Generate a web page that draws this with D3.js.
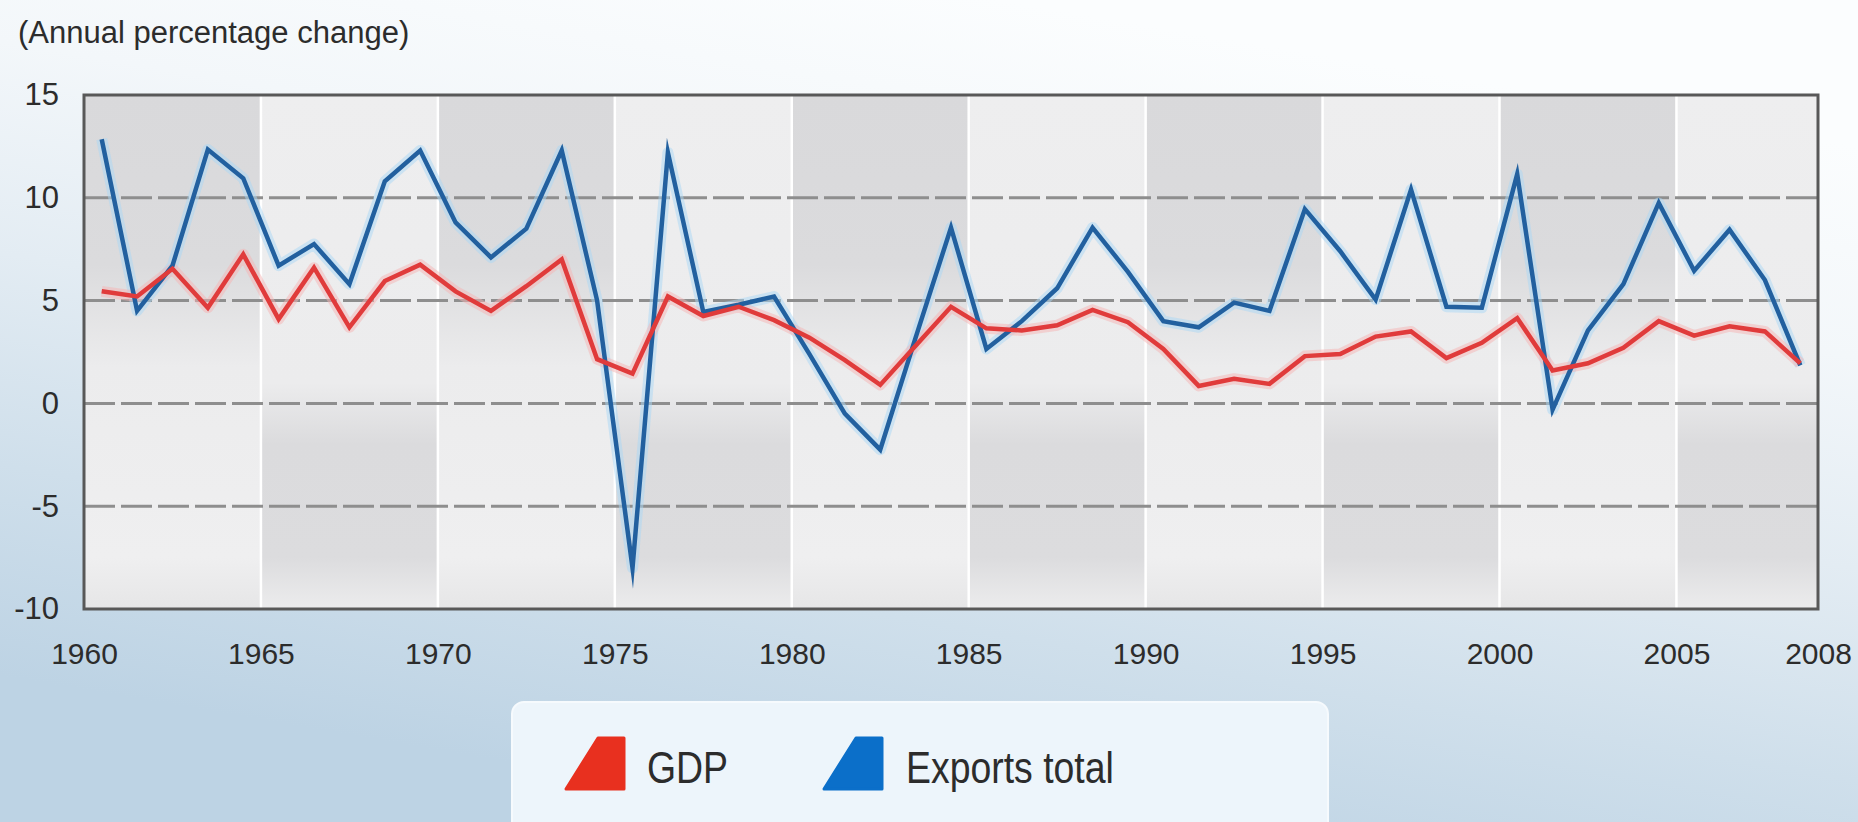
<!DOCTYPE html>
<html>
<head>
<meta charset="utf-8">
<script src="https://cdn.jsdelivr.net/npm/d3@7"></script>
<style>
  html, body { margin: 0; padding: 0; overflow: hidden; background: #eef4f9; }
  svg { display: block; }
  text { font-family: "Liberation Sans", Arial, Helvetica, sans-serif; fill: #2c2c2c; }
</style>
</head>
<body>
<svg id="chart" width="1858" height="822"></svg>
<script>
// ---------------- data ----------------
const years = [1960,1961,1962,1963,1964,1965,1966,1967,1968,1969,
               1970,1971,1972,1973,1974,1975,1976,1977,1978,1979,
               1980,1981,1982,1983,1984,1985,1986,1987,1988,1989,
               1990,1991,1992,1993,1994,1995,1996,1997,1998,1999,
               2000,2001,2002,2003,2004,2005,2006,2007,2008];

const gdp = [5.45,5.2,6.55,4.65,7.25,4.1,6.6,3.7,5.95,6.75,
             5.45,4.5,5.7,7.0,2.15,1.45,5.2,4.25,4.7,4.05,
             3.2,2.1,0.9,2.8,4.7,3.65,3.55,3.8,4.55,3.95,
             2.65,0.85,1.2,0.95,2.3,2.4,3.25,3.5,2.2,2.95,
             4.15,1.6,1.95,2.7,4.0,3.3,3.75,3.5,1.95];

const exportsTotal = [12.85,4.5,6.7,12.35,10.95,6.7,7.75,5.8,10.8,12.3,
                      8.8,7.1,8.5,12.3,5.0,-8.0,12.2,4.45,4.8,5.2,
                      2.4,-0.5,-2.25,3.2,8.55,2.65,4.0,5.6,8.55,6.4,
                      4.0,3.7,4.9,4.5,9.45,7.4,5.05,10.4,4.7,4.65,
                      11.15,-0.3,3.55,5.8,9.75,6.45,8.45,6.0,1.85];

const yTicks = [15, 10, 5, 0, -5, -10];
const gridValues = [10, 5, 0, -5];
const xTickValues = [1960,1965,1970,1975,1980,1985,1990,1995,2000,2005,2009];
const xTickLabels = ["1960","1965","1970","1975","1980","1985","1990","1995","2000","2005","2008"];

const title = "(Annual percentage change)";
const seriesNames = ["GDP", "Exports total"];
const seriesColors = ["#e03b3b", "#22609f"];
const legendColors = ["#e8301f", "#0b6fc9"];

// ---------------- layout ----------------
const W = 1858, H = 822;
const L = 84, R = 1818, T = 95, B = 609;

const svg = d3.select("#chart");
const defs = svg.append("defs");

// page background gradient
const bg = defs.append("linearGradient").attr("id", "pageBg")
  .attr("gradientUnits", "userSpaceOnUse")
  .attr("x1", 1000).attr("y1", 0).attr("x2", 860).attr("y2", 822);
[[0, "#fbfdfe"], [0.25, "#f3f7fa"], [0.5, "#e3ecf3"], [0.75, "#cfdfeb"], [1, "#bdd3e4"]]
  .forEach(([o, c]) => bg.append("stop").attr("offset", o).attr("stop-color", c));

// band gradients
const darkG = defs.append("linearGradient").attr("id", "bandDark")
  .attr("x1", 0).attr("y1", 0).attr("x2", 0).attr("y2", 1);
[[0, "#d9d9db"], [0.33, "#dbdbdd"], [0.53, "#ececed"], [0.9, "#efeff0"], [1, "#e6e6e7"]]
  .forEach(([o, c]) => darkG.append("stop").attr("offset", o).attr("stop-color", c));
const lightG = defs.append("linearGradient").attr("id", "bandLight")
  .attr("x1", 0).attr("y1", 0).attr("x2", 0).attr("y2", 1);
[[0, "#eeeeef"], [0.56, "#ececed"], [0.68, "#dbdbdd"], [0.9, "#dcdcde"], [1, "#ececed"]]
  .forEach(([o, c]) => lightG.append("stop").attr("offset", o).attr("stop-color", c));

svg.append("rect").attr("width", W).attr("height", H).attr("fill", "url(#pageBg)");

// ---------------- scales ----------------
const x = d3.scaleLinear().domain([1960, 2009]).range([L, R]);
const y = d3.scaleLinear().domain([-10, 15]).range([B, T]);

// ---------------- title ----------------
svg.append("text").attr("x", 18).attr("y", 43)
  .style("font-size", "31px").text(title);

// ---------------- bands ----------------
const bands = d3.pairs(xTickValues);
svg.append("g").selectAll("rect").data(bands).join("rect")
  .attr("x", d => x(d[0])).attr("y", y(15))
  .attr("width", d => x(d[1]) - x(d[0])).attr("height", y(-10) - y(15))
  .attr("fill", (d, i) => i % 2 === 0 ? "url(#bandDark)" : "url(#bandLight)");

// white separators
svg.append("g").selectAll("line").data(xTickValues.slice(1, -1)).join("line")
  .attr("x1", d => x(d)).attr("x2", d => x(d))
  .attr("y1", y(15)).attr("y2", y(-10))
  .attr("stroke", "#ffffff").attr("stroke-width", 2.5);

// dashed gridlines
svg.append("g").selectAll("line").data(gridValues).join("line")
  .attr("x1", L).attr("x2", R)
  .attr("y1", d => y(d)).attr("y2", d => y(d))
  .attr("stroke", "#8e8e8e").attr("stroke-width", 3)
  .attr("stroke-dasharray", "31,6");

// ---------------- lines ----------------
const line = d3.line().x((d, i) => x(years[i] + 0.5)).y(d => y(d));
const series = [exportsTotal, gdp];
const sColors = [seriesColors[1], seriesColors[0]];
const haloColors = ["#a9d8f6", "#f6b3b3"];
series.forEach((s, k) => {
  svg.append("path").datum(s).attr("d", line)
    .attr("fill", "none").attr("stroke", haloColors[k]).attr("stroke-width", 11)
    .attr("stroke-opacity", 0.5).attr("stroke-linejoin", "round");
});
series.forEach((s, k) => {
  svg.append("path").datum(s).attr("d", line)
    .attr("fill", "none").attr("stroke", sColors[k]).attr("stroke-width", 4.5)
    .attr("stroke-linejoin", "miter").attr("stroke-miterlimit", 12);
});

// plot border
svg.append("rect").attr("x", L).attr("y", T).attr("width", R - L).attr("height", B - T)
  .attr("fill", "none").attr("stroke", "#585858").attr("stroke-width", 3);

// ---------------- axes ----------------
const yAxis = svg.append("g").attr("transform", `translate(${L},0)`)
  .call(d3.axisLeft(y).tickValues(yTicks).tickFormat(d => String(d)).tickSize(0).tickPadding(25));
yAxis.select(".domain").remove();
yAxis.selectAll("text").style("font-size", "31px").attr("fill", "#2c2c2c");

const xAxis = svg.append("g").attr("transform", `translate(0,${B})`)
  .call(d3.axisBottom(x).tickValues(xTickValues)
    .tickFormat((d, i) => xTickLabels[i]).tickSize(0).tickPadding(34));
xAxis.select(".domain").remove();
xAxis.selectAll("text").style("font-size", "30px").attr("fill", "#2c2c2c");
d3.selectAll("g").attr("font-family", null);

// ---------------- legend ----------------
const lg = svg.append("g");
lg.append("rect").attr("x", 512).attr("y", 702).attr("width", 816).attr("height", 140)
  .attr("rx", 12).attr("fill", "#edf5fb").attr("stroke", "#f6fafd").attr("stroke-width", 2);

const legendItems = [
  { name: seriesNames[0], color: legendColors[0], mx: 565, tx: 647 },
  { name: seriesNames[1], color: legendColors[1], mx: 823, tx: 906 }
];
legendItems.forEach(it => {
  const p = d3.path();
  p.moveTo(it.mx + 33, 738);
  p.lineTo(it.mx + 59, 738);
  p.lineTo(it.mx + 59, 789);
  p.lineTo(it.mx + 1, 789);
  p.closePath();
  lg.append("path").attr("d", p.toString())
    .attr("fill", it.color).attr("stroke", it.color)
    .attr("stroke-width", 3).attr("stroke-linejoin", "round");
  lg.append("text").attr("transform", `translate(${it.tx},783) scale(0.85,1)`)
    .style("font-size", "44px").attr("fill", "#262626").text(it.name);
});
</script>
</body>
</html>
